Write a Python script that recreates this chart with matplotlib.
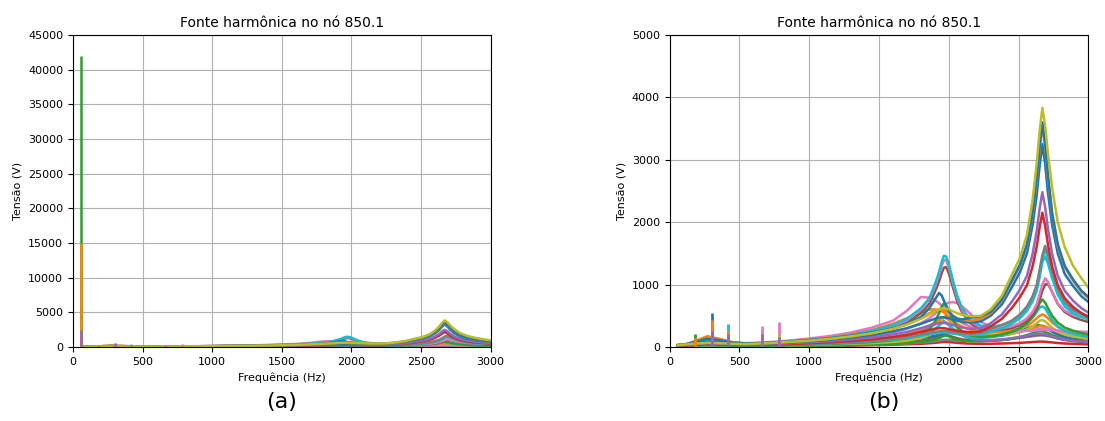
# -*- coding: utf-8 -*-
# varredura de frequencia - fonte harmonica no no 850.1
import matplotlib
matplotlib.use("Agg")
import matplotlib.pyplot as plt

# frequencias (Hz) onde as tensoes foram lidas
freq = [60, 120, 200, 270, 350, 450, 550, 700, 850, 1000, 1150, 1300, 1450, 1600, 1700,
        1800, 1860, 1900, 1930, 1950, 1965, 1980, 2000, 2030, 2060, 2100, 2160, 2230, 2300, 2380,
        2450, 2510, 2560, 2600, 2630, 2650, 2670, 2690, 2710, 2740, 2780, 2830, 2890, 2950, 3000]

# tensoes (V) de cada barra, uma lista por curva
tensao_01 = [30, 40, 55, 65, 60, 50, 45, 60, 80, 100, 130, 170, 220, 290, 360,
             450, 520, 570, 600, 615, 620, 615, 600, 570, 540, 510, 490, 500, 600, 820,
             1150, 1430, 1800, 2350, 2950, 3450, 3830, 3550, 3100, 2550, 2000, 1600, 1300, 1100, 950]
tensao_02 = [30, 45, 90, 130, 110, 70, 55, 65, 85, 110, 140, 180, 230, 300, 370,
             480, 620, 760, 865, 820, 740, 660, 570, 490, 450, 440, 470, 490, 560, 760,
             1060, 1320, 1650, 2150, 2700, 3200, 3600, 3250, 2750, 2150, 1650, 1300, 1080, 900, 800]
tensao_03 = [25, 40, 110, 170, 130, 75, 55, 60, 80, 100, 130, 170, 220, 290, 360,
             460, 540, 580, 600, 600, 590, 570, 540, 500, 460, 430, 420, 450, 540, 740,
             1040, 1300, 1620, 2120, 2660, 3150, 3550, 3200, 2700, 2120, 1620, 1280, 1060, 880, 780]
tensao_04 = [25, 35, 60, 80, 70, 55, 45, 55, 70, 90, 115, 150, 190, 250, 300,
             370, 420, 450, 470, 475, 475, 470, 460, 440, 420, 400, 390, 410, 500, 680,
             950, 1200, 1500, 1950, 2440, 2890, 3250, 2930, 2470, 1950, 1500, 1170, 975, 810, 720]
tensao_05 = [20, 30, 45, 60, 55, 45, 40, 45, 60, 75, 95, 120, 150, 200, 240,
             300, 340, 370, 380, 385, 385, 380, 370, 350, 330, 310, 290, 300, 380, 520,
             720, 920, 1140, 1490, 1860, 2210, 2480, 2240, 1900, 1490, 1140, 900, 740, 620, 550]
tensao_06 = [15, 25, 35, 45, 40, 35, 30, 35, 45, 60, 75, 95, 120, 160, 190,
             240, 270, 290, 300, 300, 300, 295, 285, 270, 260, 245, 235, 250, 330, 450,
             620, 800, 990, 1290, 1610, 1910, 2150, 1940, 1640, 1290, 990, 780, 640, 540, 480]
tensao_07 = [15, 20, 30, 40, 35, 30, 28, 32, 40, 50, 65, 80, 100, 130, 160,
             200, 225, 240, 250, 255, 260, 255, 250, 240, 230, 215, 210, 230, 290, 350,
             420, 520, 650, 810, 1000, 1230, 1470, 1620, 1490, 1230, 940, 730, 600, 540, 490]
tensao_08 = [30, 40, 70, 100, 90, 60, 50, 60, 80, 110, 140, 190, 260, 350, 450,
             620, 780, 1000, 1200, 1370, 1460, 1450, 1330, 1060, 820, 600, 420, 340, 320, 350,
             400, 500, 620, 780, 970, 1190, 1420, 1560, 1440, 1190, 900, 700, 580, 520, 480]
tensao_09 = [25, 35, 60, 90, 80, 55, 45, 55, 75, 100, 130, 175, 240, 330, 430,
             600, 760, 960, 1150, 1310, 1390, 1390, 1280, 1020, 790, 570, 400, 310, 280, 300,
             330, 380, 460, 560, 690, 840, 1000, 1100, 1040, 880, 700, 580, 510, 480, 460]
tensao_10 = [20, 30, 50, 75, 65, 45, 40, 50, 65, 90, 120, 160, 220, 300, 390,
             540, 690, 880, 1050, 1190, 1270, 1280, 1180, 950, 730, 530, 370, 280, 260, 280,
             300, 350, 420, 510, 620, 750, 900, 1000, 1010, 880, 690, 560, 480, 430, 400]
tensao_11 = [15, 20, 30, 40, 35, 30, 28, 30, 40, 50, 60, 75, 95, 120, 145,
             180, 200, 215, 225, 230, 232, 230, 225, 215, 205, 195, 190, 200, 240, 300,
             370, 460, 580, 730, 900, 1110, 1360, 1450, 1340, 1100, 840, 650, 540, 480, 440]
tensao_12 = [10, 15, 25, 35, 30, 25, 22, 25, 30, 40, 50, 65, 80, 110, 140,
             200, 280, 400, 540, 650, 700, 670, 580, 430, 320, 240, 180, 160, 170, 200,
             240, 300, 380, 480, 590, 700, 760, 710, 620, 500, 390, 310, 260, 220, 200]
tensao_13 = [30, 45, 80, 120, 100, 70, 60, 75, 100, 135, 175, 230, 310, 420, 580,
             800, 790, 750, 700, 660, 630, 600, 560, 500, 440, 380, 320, 280, 260, 250,
             250, 250, 255, 260, 265, 270, 270, 270, 268, 265, 260, 255, 250, 245, 240]
tensao_14 = [20, 30, 50, 70, 60, 45, 40, 50, 60, 80, 100, 130, 170, 230, 290,
             380, 460, 530, 580, 620, 660, 690, 710, 720, 700, 640, 520, 400, 320, 270,
             255, 255, 260, 270, 280, 290, 300, 300, 295, 280, 260, 240, 210, 190, 170]
tensao_15 = [30, 45, 100, 165, 130, 70, 55, 65, 85, 115, 150, 200, 270, 370, 460,
             560, 600, 600, 590, 570, 550, 520, 480, 420, 370, 320, 270, 240, 230, 240,
             270, 300, 340, 400, 460, 500, 520, 500, 460, 390, 320, 260, 220, 190, 170]
tensao_16 = [10, 15, 20, 25, 22, 20, 18, 20, 25, 30, 40, 50, 60, 80, 100,
             140, 190, 260, 340, 420, 480, 500, 470, 380, 300, 230, 190, 180, 180, 190,
             210, 240, 280, 330, 380, 420, 430, 410, 370, 310, 250, 200, 170, 150, 130]
tensao_17 = [10, 15, 25, 35, 30, 25, 22, 25, 30, 40, 50, 60, 70, 90, 110,
             140, 160, 180, 200, 210, 220, 225, 225, 220, 210, 190, 170, 150, 160, 180,
             210, 250, 300, 330, 350, 345, 330, 310, 280, 240, 200, 160, 130, 115, 100]
tensao_18 = [5, 8, 12, 18, 15, 12, 10, 12, 15, 20, 25, 30, 40, 50, 60,
             80, 100, 120, 140, 160, 180, 180, 170, 140, 120, 100, 90, 90, 100, 110,
             130, 160, 190, 220, 240, 250, 250, 240, 220, 190, 160, 130, 110, 90, 75]
tensao_19 = [10, 15, 25, 30, 28, 25, 22, 25, 30, 40, 50, 60, 80, 110, 140,
             180, 230, 290, 340, 380, 400, 390, 350, 290, 230, 180, 150, 150, 160, 190,
             240, 300, 380, 470, 560, 630, 650, 620, 540, 430, 330, 260, 210, 180, 160]
tensao_20 = [15, 25, 60, 110, 80, 45, 35, 40, 50, 60, 75, 95, 120, 160, 200,
             260, 310, 360, 400, 420, 410, 390, 350, 290, 240, 180, 130, 110, 110, 120,
             140, 160, 180, 200, 210, 210, 210, 200, 190, 170, 140, 120, 100, 90, 80]
tensao_21 = [5, 8, 10, 12, 12, 10, 10, 10, 12, 15, 18, 22, 28, 35, 42,
             50, 58, 65, 72, 78, 80, 80, 78, 72, 65, 58, 52, 50, 50, 55,
             60, 65, 72, 78, 82, 85, 85, 82, 78, 72, 62, 55, 50, 45, 40]
tensao_22 = [8, 10, 15, 20, 18, 15, 14, 15, 18, 22, 28, 35, 45, 60, 75,
             100, 125, 150, 175, 195, 200, 195, 180, 160, 140, 120, 105, 100, 100, 110,
             130, 150, 170, 185, 195, 200, 200, 195, 185, 165, 135, 110, 95, 80, 70]
tensao_23 = [5, 8, 12, 15, 14, 12, 11, 12, 15, 18, 22, 28, 35, 45, 55,
             70, 80, 90, 100, 108, 112, 115, 112, 108, 102, 98, 95, 95, 100, 115,
             130, 145, 160, 172, 180, 185, 185, 180, 172, 160, 140, 120, 100, 85, 65]
tensao_24 = [10, 15, 30, 60, 45, 25, 20, 25, 35, 45, 60, 80, 110, 150, 200,
             280, 340, 390, 430, 460, 470, 460, 430, 370, 310, 250, 210, 195, 190, 195,
             210, 240, 270, 300, 320, 335, 340, 330, 310, 280, 240, 200, 170, 145, 120]

curvas = [tensao_21, tensao_23, tensao_22, tensao_18, tensao_17, tensao_20, tensao_24, tensao_16,
          tensao_14, tensao_13, tensao_15, tensao_19, tensao_12, tensao_10, tensao_09, tensao_08,
          tensao_11, tensao_07, tensao_06, tensao_05, tensao_04, tensao_03, tensao_02, tensao_01]
cores = ["C3", "C7", "C5", "C2", "C0", "C4", "C1", "C8",
         "C6", "C6", "C1", "C9", "C2", "C5", "C6", "C9",
         "C9", "C7", "C3", "C4", "C0", "C1", "C0", "C8"]

# picos nas frequencias harmonicas injetadas
harm_freq = [180, 180, 300, 300, 300, 420, 420, 420, 660, 660, 780, 780, 780]
harm_tensao = [200, 150, 550, 430, 250, 370, 250, 200, 340, 200, 400, 200, 160]
harm_cores = ["C2", "C1", "C0", "C1", "C4", "C9", "C1", "C4", "C6", "C4", "C6", "C8", "C4"]

# componente fundamental (60 Hz), so aparece em (a)
fund_tensao = [42000, 15000, 2500]
fund_cores = ["C2", "C1", "C4"]

fig = plt.figure(figsize=(11.05, 4.21), dpi=100)
ax1 = fig.add_axes([0.066, 0.176, 0.378, 0.741])
ax2 = fig.add_axes([0.606, 0.176, 0.379, 0.741])

for ax in [ax1, ax2]:
    for v, c in zip(curvas, cores):
        ax.plot(freq, v, color=c, lw=1.8)
    ax.vlines(harm_freq, 0, harm_tensao, colors=harm_cores, lw=2)
    ax.set_xlim(0, 3000)
    ax.grid(True)
    ax.set_axisbelow(True)
    ax.set_title("Fonte harmônica no nó 850.1", fontsize=10)
    ax.set_xlabel("Frequência (Hz)", fontsize=8)
    ax.set_ylabel("Tensão (V)", fontsize=8)
    ax.tick_params(labelsize=8)

ax1.vlines([60] * len(fund_tensao), 0, fund_tensao, colors=fund_cores, lw=1.8)
ax1.set_ylim(0, 45000)
ax1.set_yticks(range(0, 45001, 5000))
ax2.set_ylim(0, 5000)
ax2.set_yticks(range(0, 5001, 1000))

fig.text(0.255, 0.031, "(a)", fontsize=16, ha="center")
fig.text(0.800, 0.031, "(b)", fontsize=16, ha="center")

plt.savefig("out.png", dpi=100)
